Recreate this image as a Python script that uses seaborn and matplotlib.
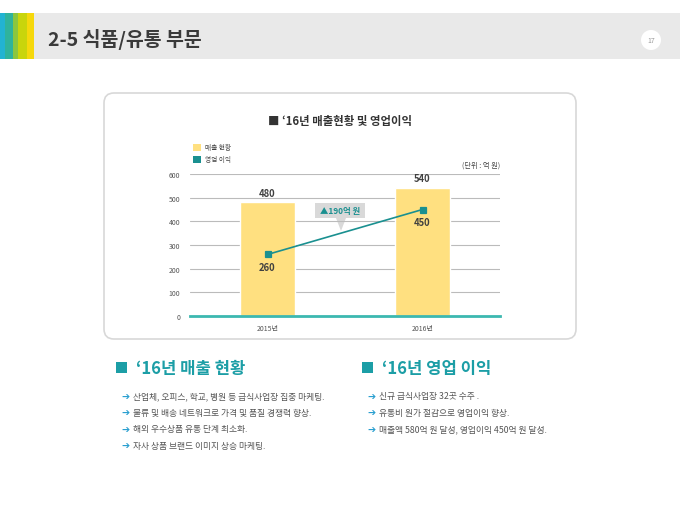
import pandas as pd
import matplotlib.pyplot as plt
import seaborn as sns
from matplotlib.patches import Rectangle, FancyBboxPatch, Polygon, Circle

# data
years = ['2015년', '2016년']
sales = [480, 540]
profit = [260, 450]
y_ticks = [0, 100, 200, 300, 400, 500, 600]
left_items = ['산업체, 오피스, 학교, 병원 등 급식사업장 집중 마케팅.',
              '물류 및 배송 네트워크로 가격 및 품질 경쟁력 향상.',
              '해외 우수상품 유통 단계 최소화.',
              '자사 상품 브랜드 이미지 상승 마케팅.']
right_items = ['신규 급식사업장 32곳 수주 .',
               '유통비 원가 절감으로 영업이익 향상.',
               '매출액 580억 원 달성, 영업이익 450억 원 달성.']

df = pd.DataFrame({'year': years, 'sales': sales, 'profit': profit})

sns.set_style("white")
plt.rcParams['font.family'] = ['Noto Sans CJK KR', 'DejaVu Sans']

TEAL = '#1a9090'
BAR = '#ffe080'
HEAD = '#1c9ea6'

fig = plt.figure(figsize=(6.8, 5.1), dpi=100)

# background canvas in pixel coordinates
bg = fig.add_axes([0, 0, 1, 1], zorder=0)
bg.set_xlim(0, 680)
bg.set_ylim(510, 0)
bg.axis('off')

# header band
bg.add_patch(Rectangle((0, 14), 680, 46, color='#e9e9e9', lw=0))
for x0, w, c in [(0, 5, '#22b3d2'), (5, 8, '#2fb39c'), (13, 5, '#8cc63e'),
                 (18, 9, '#c9d50c'), (27, 7, '#f6d80c')]:
    bg.add_patch(Rectangle((x0, 14), w, 46, color=c, lw=0))
bg.text(48, 39, '2-5 식품/유통 부문', fontsize=14, fontweight='bold',
        color='#3a3a3a', va='center', ha='left')
bg.add_patch(Circle((651, 41), 10, color='white', lw=0))
bg.text(651, 41, '17', fontsize=5, color='#999999', ha='center', va='center')

# chart panel
bg.add_patch(FancyBboxPatch((104, 94), 472, 246, boxstyle='round,pad=0,rounding_size=10',
                            fc='white', ec='#d8d8d8', lw=1.2))
bg.text(340, 122, '■ ‘16년 매출현황 및 영업이익', fontsize=8.2, fontweight='bold',
        color='#333333', ha='center', va='center')
bg.add_patch(Rectangle((193, 145), 8, 7, color=BAR, lw=0))
bg.add_patch(Rectangle((193, 157), 8, 7, color=TEAL, lw=0))
bg.text(205, 148.5, '매출 현황', fontsize=4.8, color='#444444', va='center')
bg.text(205, 160.5, '영업 이익', fontsize=4.8, color='#444444', va='center')
bg.text(500, 166, '(단위 : 억 원)', fontsize=5.2, color='#444444', ha='right', va='center')

# annotation callout
bg.add_patch(Rectangle((315, 204), 50, 15, color='#d9d9d9', lw=0, zorder=3))
bg.add_patch(Polygon([(336, 219), (346, 219), (341, 232)], closed=True,
                     color='#d9d9d9', lw=0, zorder=3))
bg.text(340, 211.5, '▲190억 원', fontsize=6, fontweight='bold', color=TEAL,
        ha='center', va='center', zorder=4)

# chart axes
ax = fig.add_axes([190 / 680, 1 - 317 / 510, 310 / 680, 142 / 510], zorder=1)
ax.set_facecolor('none')
sns.barplot(data=df, x='year', y='sales', color=BAR, width=0.35,
            saturation=1, ax=ax, zorder=2)
sns.pointplot(data=df, x='year', y='profit', color=TEAL, markers='s',
              markersize=4, linewidth=1.2, ax=ax, zorder=3)
ax.set_xlim(-0.5, 1.5)
ax.set_ylim(0, 600)
ax.set_yticks(y_ticks)
ax.yaxis.grid(True, color='#bbbbbb', lw=0.8)
ax.set_axisbelow(True)
ax.set_xlabel('')
ax.set_ylabel('')
for s in ['top', 'right', 'left']:
    ax.spines[s].set_visible(False)
ax.spines['bottom'].set_color('#3cb8b0')
ax.spines['bottom'].set_linewidth(2)
ax.tick_params(axis='y', labelsize=5, colors='#555555', length=3, color='#bbbbbb', pad=4)
ax.tick_params(axis='x', labelsize=5, colors='#555555', length=0, pad=6)
ax.set_xticks([-0.5, 0.5, 1.5], minor=True)
ax.tick_params(axis='x', which='minor', length=3, color='#3cb8b0')

for i, (s, p) in enumerate(zip(sales, profit)):
    ax.text(i, s + 20, str(s), ha='center', va='bottom', fontsize=6.8,
            fontweight='bold', color='#404040')
    ax.text(i, p - 30, str(p), ha='center', va='top', fontsize=6.8,
            fontweight='bold', color='#404040')

# bottom sections
for x0, title, items in [(116, '‘16년 매출 현황', left_items),
                         (362, '‘16년 영업 이익', right_items)]:
    bg.add_patch(Rectangle((x0, 363), 11, 11, color=HEAD, lw=0))
    bg.text(x0 + 20, 369, title, fontsize=12, fontweight='bold', color=HEAD,
            va='center', ha='left')
    for k, t in enumerate(items):
        y = 397 + k * 16.4
        bg.text(x0 + 5, y, '➔', fontsize=7, color='#2a9fd0', va='center',
                family=['DejaVu Sans'])
        bg.text(x0 + 17, y, t, fontsize=6.3, color='#555555', va='center')

fig.savefig('out.png', dpi=100)
